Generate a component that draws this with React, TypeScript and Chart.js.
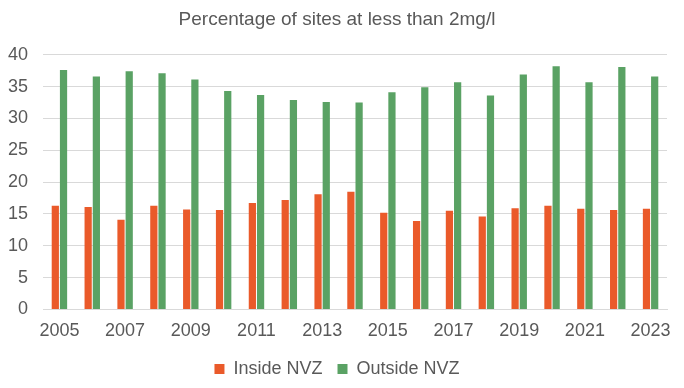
import React, { useEffect, useRef } from "react";
import { Chart, registerables } from "chart.js";

Chart.register(...registerables);

const years = ["2005","2006","2007","2008","2009","2010","2011","2012","2013","2014","2015","2016","2017","2018","2019","2020","2021","2022","2023"];
const insideNVZ = [16.3,16.1,14.1,16.3,15.7,15.6,16.7,17.2,18.1,18.5,15.2,13.9,15.5,14.6,15.9,16.3,15.8,15.6,15.8];
const outsideNVZ = [37.6,36.6,37.4,37.1,36.1,34.3,33.7,32.9,32.6,32.5,34.1,34.9,35.7,33.6,36.9,38.2,35.7,38.1,36.6];
const chartTitle = "Percentage of sites at less than 2mg/l";

export default function App() {
  const ref = useRef<HTMLCanvasElement>(null);
  useEffect(() => {
    document.body.style.margin = "0";
    const ctx = ref.current!;
    const font = "'Liberation Sans', Arial, sans-serif";
    const chart = new Chart(ctx, {
      type: "bar",
      data: {
        labels: years,
        datasets: [
          { label: "Inside NVZ", data: insideNVZ, backgroundColor: "#EA5A2A", categoryPercentage: 0.5, barPercentage: 0.88 },
          { label: "Outside NVZ", data: outsideNVZ, backgroundColor: "#5AA264", categoryPercentage: 0.5, barPercentage: 0.88 },
        ],
      },
      options: {
        animation: false,
        responsive: false,
        maintainAspectRatio: false,
        layout: { padding: { left: 7, right: 17, top: 0, bottom: 0 } },
        plugins: {
          title: { display: true, text: chartTitle, color: "#595959", font: { family: font, size: 19, weight: "normal" }, padding: { top: 8, bottom: 24 } },
          legend: {
            position: "bottom",
            labels: { color: "#595959", font: { family: font, size: 18 }, boxWidth: 10, boxHeight: 10, padding: 15 },
          },
          tooltip: { enabled: false },
        },
        scales: {
          x: {
            grid: { display: false },
            border: { color: "#d9d9d9" },
            afterFit: (s: any) => { s.paddingLeft = 0; s.paddingRight = 0; },
            ticks: {
              color: "#595959",
              font: { family: font, size: 18 },
              autoSkip: false,
              maxRotation: 0,
              callback: (v: any, i: number) => (i % 2 === 0 ? years[i] : ""),
            },
          },
          y: {
            min: 0,
            max: 40,
            afterFit: (s: any) => { s.width = 36; },
            ticks: { stepSize: 5, color: "#595959", font: { family: font, size: 18 }, padding: 15 },
            grid: { color: "#d9d9d9", drawTicks: false },
            border: { display: false },
          },
        },
      },
    });
    return () => chart.destroy();
  }, []);
  return (
    <div style={{ width: 684, height: 388 }}>
      <canvas ref={ref} width={684} height={388} style={{ display: "block" }} />
    </div>
  );
}
